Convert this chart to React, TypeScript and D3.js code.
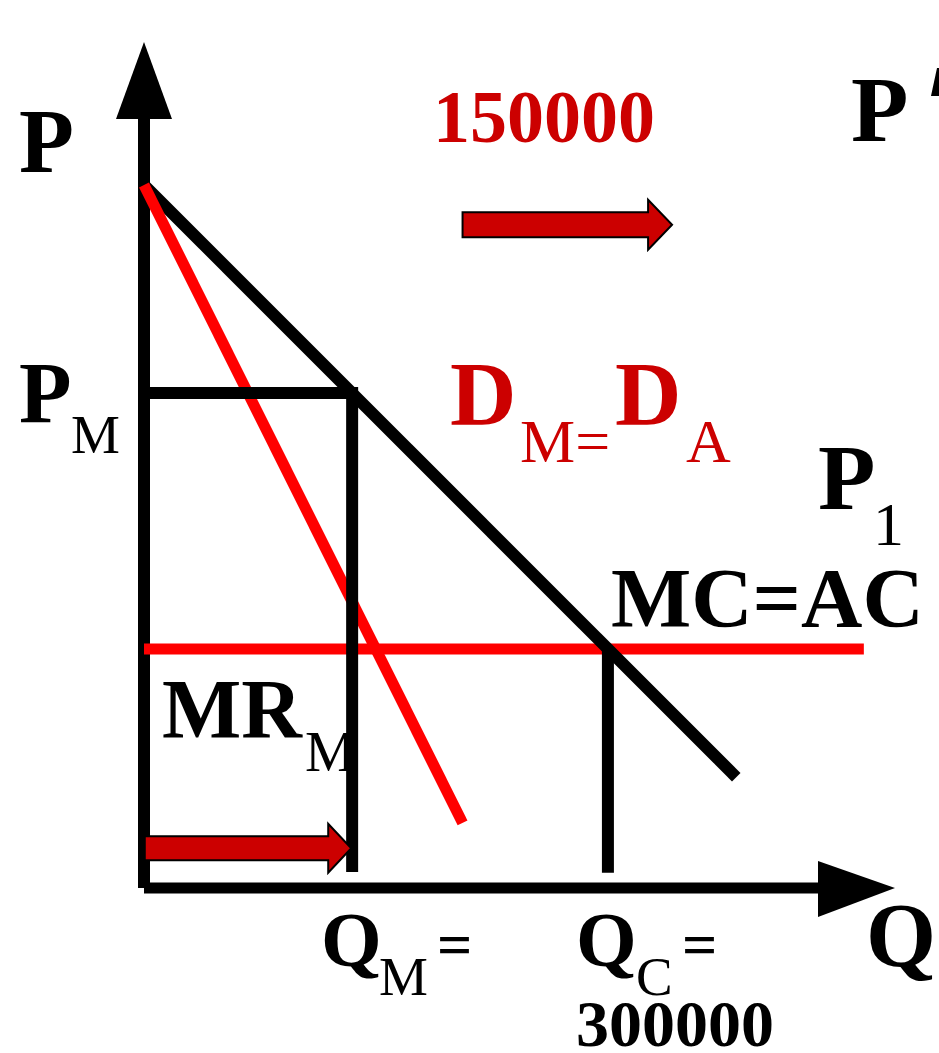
import React from "react";
import * as d3 from "d3";

// ---- Data (diagram units: Q in thousands, P in abstract price units) ----
const demandCurve = [
  { q: 0, p: 83.1 },
  { q: 383, p: 13.1 },
];
const marginalRevenue = [
  { q: 0, p: 83.1 },
  { q: 206, p: 7.7 },
];
const marginalCost = [
  { q: 0, p: 28.25 },
  { q: 465.5, p: 28.25 },
];
const monopolyPrice = 58.5;
const monopolyQty = 134.6;
const competitiveQty = 300;
const dropFloor = [1.9, 1.8]; // where the QM and QC drop lines stop
const shiftArrows = [
  { q0: 0.5, q1: 134, p: 4.7, body: 12, head: 24.5, len: 23 },
  { q0: 206, q1: 341.5, p: 78.4, body: 12.5, head: 25, len: 24 },
];
const axisMaxQ = 485;
const axisMaxP = 100;

const BLACK = "#000000";
const RED_LINE = "#FF0000";
const DARK_RED = "#CC0000";
const FONT = "'Liberation Serif', 'Times New Roman', serif";

type Lbl = { t: string; x: number; y: number; s: number; b?: boolean; c?: string };
const labels: Lbl[] = [
  { t: "P", x: 19, y: 172, s: 90, b: true },
  { t: "150000", x: 433, y: 142, s: 74, b: true, c: DARK_RED },
  { t: "P", x: 851, y: 141, s: 94, b: true },
  { t: "P", x: 19, y: 422, s: 86, b: true },
  { t: "M", x: 71, y: 453, s: 55 },
  { t: "D", x: 450, y: 425, s: 92, b: true, c: DARK_RED },
  { t: "M=", x: 520, y: 462, s: 62, c: DARK_RED },
  { t: "D", x: 615, y: 425, s: 92, b: true, c: DARK_RED },
  { t: "A", x: 686, y: 462, s: 62, c: DARK_RED },
  { t: "P", x: 818, y: 509, s: 94, b: true },
  { t: "1", x: 873, y: 545, s: 62 },
  { t: "MC=AC", x: 611, y: 627, s: 85, b: true },
  { t: "MR", x: 162, y: 738, s: 84, b: true },
  { t: "M", x: 305, y: 771, s: 57 },
  { t: "Q", x: 321, y: 966, s: 78, b: true },
  { t: "M", x: 379, y: 995, s: 55 },
  { t: "=", x: 437, y: 965, s: 62, b: true },
  { t: "Q", x: 576, y: 966, s: 78, b: true },
  { t: "C", x: 636, y: 995, s: 55 },
  { t: "=", x: 682, y: 965, s: 62, b: true },
  { t: "300000", x: 576, y: 1046, s: 66, b: true },
  { t: "Q", x: 866, y: 966, s: 90, b: true },
];

export default function App() {
  const x = d3.scaleLinear().domain([0, axisMaxQ]).range([144, 894]);
  const y = d3.scaleLinear().domain([0, axisMaxP]).range([888, 42]);
  const line = d3
    .line<{ q: number; p: number }>()
    .x((d) => x(d.q))
    .y((d) => y(d.p));

  // axes
  const x0 = x(0);
  const y0 = y(0);
  const yTip = y(axisMaxP);
  const xTip = x(axisMaxQ);
  const headLen = 77;
  const headHalf = 28;

  const arrowPath = (a: (typeof shiftArrows)[number]) => {
    const xa = x(a.q0);
    const xb = x(a.q1);
    const yc = y(a.p);
    const xh = xb - a.len;
    return d3.line()([
      [xa, yc - a.body],
      [xh, yc - a.body],
      [xh, yc - a.head],
      [xb, yc],
      [xh, yc + a.head],
      [xh, yc + a.body],
      [xa, yc + a.body],
    ]) + "Z";
  };

  return (
    <svg
      width={939}
      height={1053}
      style={{ position: "absolute", left: 0, top: 0, background: "#fff" }}
    >
      <rect x={0} y={0} width={939} height={1053} fill="#fff" />
      {labels.map((l, i) => (
        <text
          key={i}
          x={l.x}
          y={l.y}
          fontFamily={FONT}
          fontSize={l.s}
          fontWeight={l.b ? "bold" : "normal"}
          fill={l.c || BLACK}
        >
          {l.t}
        </text>
      ))}

      {/* partial arrowhead of neighbouring panel */}
      <path d={d3.line()([[931, 96], [937, 68], [939, 68], [939, 96]]) + "Z"} fill={BLACK} />

      {/* axes */}
      <line x1={x0} y1={y0} x2={x0} y2={yTip + headLen - 1} stroke={BLACK} strokeWidth={12} />
      <path
        d={d3.line()([[x0, yTip], [x0 - headHalf, yTip + headLen], [x0 + headHalf, yTip + headLen]]) + "Z"}
        fill={BLACK}
      />
      <line x1={x0} y1={y0} x2={xTip - headLen + 1} y2={y0} stroke={BLACK} strokeWidth={11} />
      <path
        d={d3.line()([[xTip + 1, y0], [xTip + 1 - headLen, y0 - headHalf + 1], [xTip + 1 - headLen, y0 + headHalf + 1]]) + "Z"}
        fill={BLACK}
      />

      {/* MC = AC */}
      <path d={line(marginalCost) || ""} stroke={RED_LINE} strokeWidth={11} fill="none" />
      {/* demand */}
      <path d={line(demandCurve) || ""} stroke={BLACK} strokeWidth={12} fill="none" />
      {/* MR */}
      <path d={line(marginalRevenue) || ""} stroke={RED_LINE} strokeWidth={11} fill="none" />

      {/* monopoly price & quantity */}
      <line
        x1={x(0)}
        y1={y(monopolyPrice)}
        x2={x(monopolyQty) + 6}
        y2={y(monopolyPrice)}
        stroke={BLACK}
        strokeWidth={12}
      />
      <line
        x1={x(monopolyQty)}
        y1={y(monopolyPrice)}
        x2={x(monopolyQty)}
        y2={y(dropFloor[0])}
        stroke={BLACK}
        strokeWidth={12}
      />
      <line
        x1={x(competitiveQty)}
        y1={y(marginalCost[0].p)}
        x2={x(competitiveQty)}
        y2={y(dropFloor[1])}
        stroke={BLACK}
        strokeWidth={12}
      />

      {/* shift arrows */}
      {shiftArrows.map((a, i) => (
        <path key={i} d={arrowPath(a)} fill={DARK_RED} stroke={BLACK} strokeWidth={2} />
      ))}
    </svg>
  );
}
